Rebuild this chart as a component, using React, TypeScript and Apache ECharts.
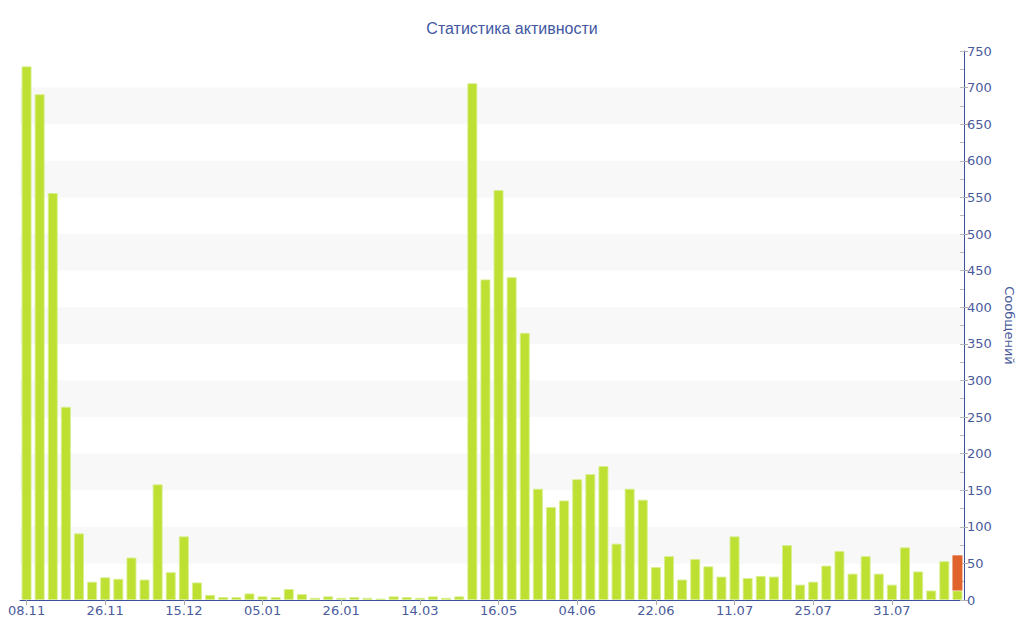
import React, { useEffect, useRef } from "react";
import * as echarts from "echarts";

const categories = [
  "08.11", "11.11", "14.11", "17.11", "20.11", "23.11",
  "26.11", "29.11", "02.12", "05.12", "08.12", "12.12",
  "15.12", "18.12", "22.12", "25.12", "29.12", "01.01",
  "05.01", "08.01", "12.01", "15.01", "19.01", "22.01",
  "26.01", "02.02", "10.02", "17.02", "24.02", "04.03",
  "14.03", "24.03", "03.04", "13.04", "24.04", "05.05",
  "16.05", "19.05", "22.05", "25.05", "28.05", "01.06",
  "04.06", "07.06", "10.06", "13.06", "16.06", "19.06",
  "22.06", "25.06", "28.06", "01.07", "04.07", "08.07",
  "11.07", "13.07", "16.07", "18.07", "20.07", "23.07",
  "25.07", "26.07", "27.07", "28.07", "29.07", "30.07",
  "31.07", "01.08", "02.08", "03.08", "04.08", "05.08",
];

const greenValues = [
  729, 691, 556, 264, 91, 25,
  31, 29, 58, 28, 158, 38,
  87, 24, 7, 4, 4, 9,
  5, 4, 15, 8, 3, 5,
  3, 4, 3, 2, 5, 4,
  3, 5, 3, 5, 706, 438,
  560, 441, 365, 152, 127, 136,
  165, 172, 183, 77, 152, 137,
  45, 60, 28, 56, 46, 32,
  87, 30, 33, 32, 75, 21,
  25, 47, 67, 36, 60, 36,
  21, 72, 39, 13, 53, 13,
];

const orangeValues = [
  0, 0, 0, 0, 0, 0,
  0, 0, 0, 0, 0, 0,
  0, 0, 0, 0, 0, 0,
  0, 0, 0, 0, 0, 0,
  0, 0, 0, 0, 0, 0,
  0, 0, 0, 0, 0, 0,
  0, 0, 0, 0, 0, 0,
  0, 0, 0, 0, 0, 0,
  0, 0, 0, 0, 0, 0,
  0, 0, 0, 0, 0, 0,
  0, 0, 0, 0, 0, 0,
  0, 0, 0, 0, 0, 48,
];

const titleText = "Статистика активности";
const yAxisName = "Сообщений";

const FONT = "'DejaVu Sans', Verdana, sans-serif";
const TITLE_FONT = "'Liberation Sans', Arial, sans-serif";
const BLUE = "#4258a2";
const LABEL = "#4a5b9c";

export default function App() {
  const ref = useRef<HTMLDivElement>(null);

  useEffect(() => {
    document.body.style.margin = "0";
    if (!ref.current) return;
    const chart = echarts.init(ref.current, undefined, { renderer: "svg" });
    chart.setOption({
      animation: false,
      backgroundColor: "#ffffff",
      textStyle: { fontFamily: FONT },
      title: {
        text: titleText,
        left: "center",
        top: 15,
        textStyle: { color: BLUE, fontSize: 16, fontWeight: "normal", fontFamily: TITLE_FONT },
      },
      grid: { left: 20, right: 60, top: 51, bottom: 40 },
      xAxis: {
        type: "category",
        data: categories,
        axisLine: { lineStyle: { color: "#3b4f9c", width: 1 } },
        axisTick: { show: true, interval: 5, alignWithLabel: true, length: 5, lineStyle: { color: "#aaaaaa" } },
        axisLabel: { interval: 5, color: LABEL, fontSize: 13, fontFamily: FONT, margin: 4 },
        splitLine: { show: false },
      },
      yAxis: [
        {
          type: "value",
          position: "right",
          min: 0,
          max: 750,
          interval: 50,
          name: yAxisName,
          nameLocation: "middle",
          nameGap: 35,
          nameRotate: -90,
          nameTextStyle: { color: LABEL, fontSize: 13, fontFamily: FONT },
          axisLine: { show: true, lineStyle: { color: "#3b4f9c", width: 1 } },
          axisTick: { show: true, length: 4, lineStyle: { color: "#aaaaaa" } },
          axisLabel: { color: LABEL, fontSize: 13, fontFamily: FONT, margin: 3 },
          splitLine: { show: false },
          splitArea: { show: true, areaStyle: { color: ["rgba(255,255,255,0)", "#f8f8f8"] } },
        },
        {
          type: "value",
          position: "right",
          min: 0,
          max: 750,
          interval: 25,
          axisLine: { show: false },
          axisTick: { show: true, inside: true, length: 4, lineStyle: { color: "#bbbbbb" } },
          axisLabel: { show: false },
          splitLine: { show: false },
          splitArea: { show: false },
        },
      ],
      series: [
        {
          type: "bar",
          stack: "total",
          data: greenValues,
          barWidth: 10,
          itemStyle: { color: "#bde032", borderColor: "rgba(215,238,140,0.9)", borderWidth: 1 },
        },
        {
          type: "bar",
          stack: "total",
          data: orangeValues,
          barWidth: 10,
          itemStyle: { color: "#e0632c", borderWidth: 0 },
        },
      ],
    });
    return () => chart.dispose();
  }, []);

  return <div ref={ref} style={{ width: 1024, height: 640 }} />;
}
